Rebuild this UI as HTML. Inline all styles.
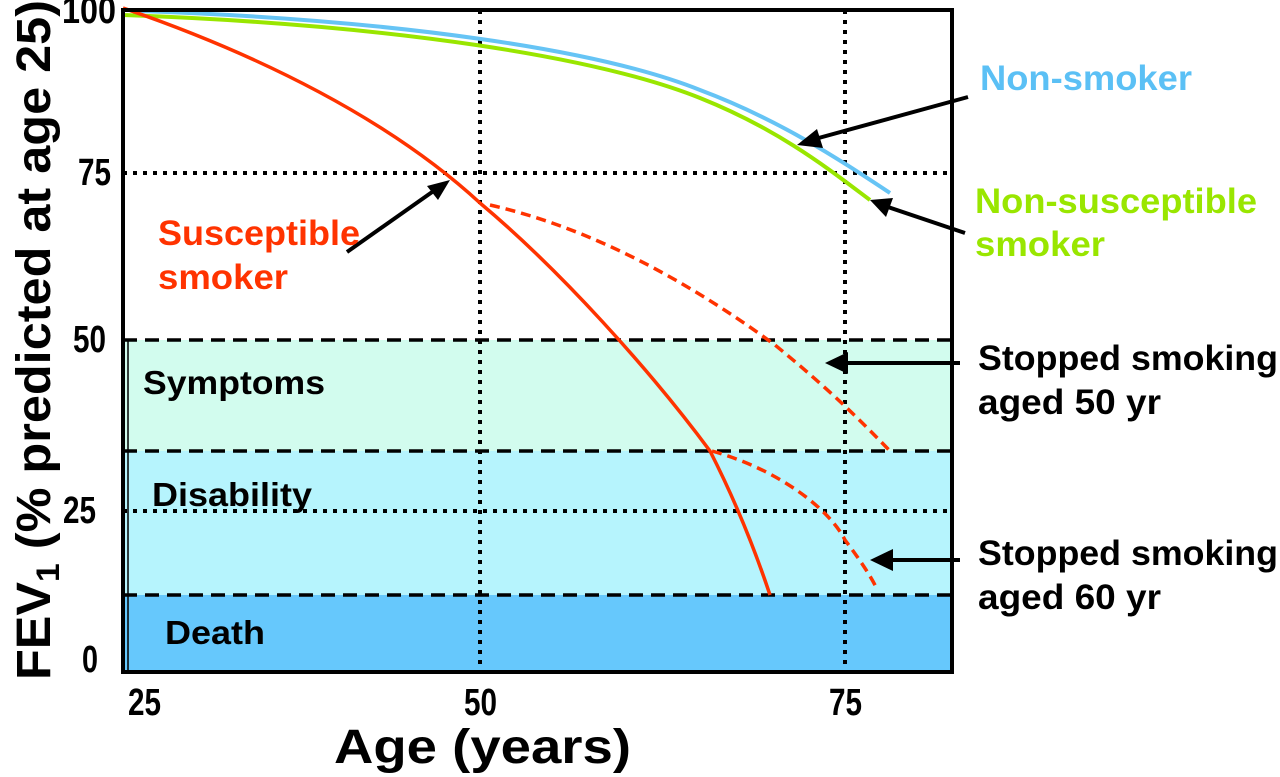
<!DOCTYPE html>
<html><head><meta charset="utf-8"><style>
body{margin:0;background:#fff}
svg{display:block;font-family:"Liberation Sans",Arial,sans-serif;font-weight:bold}
</style></head><body>
<svg width="1280" height="777" viewBox="0 0 1280 777">
<rect x="123" y="340" width="829" height="111" fill="#d2fcee"/>
<rect x="123" y="451" width="829" height="144" fill="#b6f4fd"/>
<rect x="123" y="595" width="829" height="76" fill="#66c8fc"/>
<line x1="128" y1="340" x2="128" y2="672" stroke="#000" stroke-width="1.5"/>
<g stroke="#000" stroke-width="3.5" stroke-dasharray="14,8" fill="none">
<line x1="123" y1="340" x2="952" y2="340"/>
<line x1="123" y1="451" x2="952" y2="451"/>
<line x1="123" y1="595" x2="952" y2="595"/>
</g>
<g stroke="#000" stroke-width="4" stroke-dasharray="4,6" fill="none">
<line x1="123" y1="173" x2="952" y2="173"/>
<line x1="123" y1="511" x2="952" y2="511"/>
<line x1="480" y1="10" x2="480" y2="672"/>
<line x1="845" y1="10" x2="845" y2="672"/>
</g>
<path d="M140,11 C400,20 600,50 700,90 C780,120 840,160 890,193" stroke="#66c4f5" stroke-width="4" fill="none"/>
<path d="M123,15 C400,25 600,58 700,98 C780,130 830,170 870,200" stroke="#99e600" stroke-width="4" fill="none"/>
<path d="M123,8 C260,55 390,120 480,203 C560,270 650,370 710,451 C735,500 755,550 770,595" stroke="#ff3300" stroke-width="3.5" fill="none"/>
<path d="M490,205 C600,230 700,290 775,345 C830,390 860,420 890,451" stroke="#ff3300" stroke-width="3.5" stroke-dasharray="10,6" fill="none"/>
<path d="M712,451 C780,470 830,510 845,540 C860,560 870,575 876,587" stroke="#ff3300" stroke-width="3.5" stroke-dasharray="10,6" fill="none"/>
<rect x="123" y="10" width="829" height="662" fill="none" stroke="#000" stroke-width="4"/>
<g stroke="#000" stroke-width="4" fill="#000">
<line x1="968" y1="97" x2="815" y2="139"/><polygon points="797,145 817,129 823,148" stroke="none"/>
<line x1="965" y1="233" x2="885" y2="206"/><polygon points="870,200 893,198 886,217" stroke="none"/>
<line x1="347" y1="252" x2="435" y2="190"/><polygon points="450,180 438,200 427,186" stroke="none"/>
<line x1="960" y1="363" x2="845" y2="363"/><polygon points="825,363 848,352 848,374" stroke="none"/>
<line x1="960" y1="560" x2="890" y2="560"/><polygon points="870,560 893,549 893,571" stroke="none"/>
</g>
<g font-size="32" fill="#000">
<text transform="translate(62,23) scale(1,1.2)" textLength="54" lengthAdjust="spacingAndGlyphs">100</text>
<text transform="translate(78,185) scale(1,1.2)" textLength="33" lengthAdjust="spacingAndGlyphs">75</text>
<text transform="translate(73,352) scale(1,1.2)" textLength="33" lengthAdjust="spacingAndGlyphs">50</text>
<text transform="translate(63,523) scale(1,1.2)" textLength="33" lengthAdjust="spacingAndGlyphs">25</text>
<text transform="translate(82,672) scale(1,1.2)" textLength="16" lengthAdjust="spacingAndGlyphs">0</text>
<text transform="translate(128,715) scale(1,1.2)" textLength="33" lengthAdjust="spacingAndGlyphs">25</text>
<text transform="translate(464,715) scale(1,1.2)" textLength="33" lengthAdjust="spacingAndGlyphs">50</text>
<text transform="translate(829,715) scale(1,1.2)" textLength="33" lengthAdjust="spacingAndGlyphs">75</text>
</g>
<text x="334" y="763" font-size="48" textLength="297" lengthAdjust="spacingAndGlyphs">Age (years)</text>
<text transform="translate(50,680) rotate(-90)" font-size="48" textLength="680" lengthAdjust="spacingAndGlyphs">FEV<tspan font-size="32" dy="9">1</tspan><tspan dy="-9"> (% predicted at age 25)</tspan></text>
<g font-size="33" fill="#000">
<text x="143" y="394" textLength="182" lengthAdjust="spacingAndGlyphs">Symptoms</text>
<text x="152" y="506" textLength="160" lengthAdjust="spacingAndGlyphs">Disability</text>
<text x="165" y="644" textLength="100" lengthAdjust="spacingAndGlyphs">Death</text></g>
<g font-size="35">
<text x="980" y="90" fill="#5bc0f5" textLength="212" lengthAdjust="spacingAndGlyphs">Non-smoker</text>
<text x="975" y="213" fill="#99e600" textLength="282" lengthAdjust="spacingAndGlyphs">Non-susceptible</text><text x="975" y="256" fill="#99e600" textLength="130" lengthAdjust="spacingAndGlyphs">smoker</text>
<text x="158" y="245" fill="#ff3300" textLength="202" lengthAdjust="spacingAndGlyphs">Susceptible</text><text x="158" y="289" fill="#ff3300" textLength="130" lengthAdjust="spacingAndGlyphs">smoker</text>
<text x="978" y="370" textLength="300" lengthAdjust="spacingAndGlyphs">Stopped smoking</text><text x="978" y="414" textLength="183" lengthAdjust="spacingAndGlyphs">aged 50 yr</text>
<text x="978" y="565" textLength="300" lengthAdjust="spacingAndGlyphs">Stopped smoking</text><text x="978" y="609" textLength="183" lengthAdjust="spacingAndGlyphs">aged 60 yr</text>
</g>
</svg>
</body></html>
